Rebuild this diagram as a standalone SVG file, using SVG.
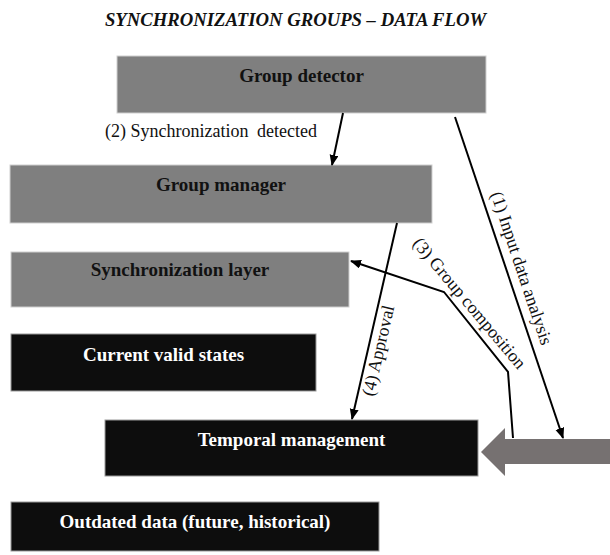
<svg xmlns="http://www.w3.org/2000/svg" width="610" height="555" viewBox="0 0 610 555">
<style>
  .title { font-family: "Liberation Serif", "Times New Roman", serif; font-weight: bold; font-style: italic; font-size: 18.7px; fill: #111; }
  .gbox { fill: #7f7f7f; stroke: #cfcfcf; stroke-width: 1; }
  .bbox { fill: #0d0d0d; stroke: #9a9a9a; stroke-width: 1; }
  .gtxt { font-family: "Liberation Serif", "Times New Roman", serif; font-weight: bold; font-size: 19px; fill: #111; text-anchor: middle; }
  .btxt { font-family: "Liberation Serif", "Times New Roman", serif; font-weight: bold; font-size: 19px; fill: #ffffff; text-anchor: middle; }
  .lbl { font-family: "Liberation Serif", "Times New Roman", serif; font-size: 18px; fill: #111; }
  .conn { fill: none; stroke: #000; stroke-width: 2; marker-end: url(#ah); }
</style>
<defs>
  <marker id="ah" markerUnits="userSpaceOnUse" markerWidth="12" markerHeight="10" refX="10" refY="4.5" orient="auto">
    <path d="M0,0 L11,4.5 L0,9 z" fill="#000"/>
  </marker>
</defs>
<rect width="610" height="555" fill="#ffffff"/>
<text class="title" x="295.5" y="26" text-anchor="middle">SYNCHRONIZATION GROUPS – DATA FLOW</text>

<g id="group-detector">
  <rect class="gbox" x="117" y="56" width="369" height="57"/>
  <text class="gtxt" x="301.5" y="82">Group detector</text>
</g>
<g id="group-manager">
  <rect class="gbox" x="10" y="165" width="422" height="58"/>
  <text class="gtxt" x="221" y="191">Group manager</text>
</g>
<g id="synchronization-layer">
  <rect class="gbox" x="11" y="252" width="338" height="55"/>
  <text class="gtxt" x="180" y="276">Synchronization layer</text>
</g>
<g id="current-valid-states">
  <rect class="bbox" x="11" y="334" width="305" height="57"/>
  <text class="btxt" x="163.5" y="361">Current valid states</text>
</g>
<g id="temporal-management">
  <rect class="bbox" x="105" y="420" width="373" height="56"/>
  <text class="btxt" x="291.5" y="446">Temporal management</text>
</g>
<g id="outdated-data">
  <rect class="bbox" x="11" y="502" width="368" height="49"/>
  <text class="btxt" x="195" y="528">Outdated data (future, historical)</text>
</g>
<g id="input-arrow">
  <polygon points="481,452 505,428 505,439 610,439 610,464 505,464 505,476" fill="#767171"/>
</g>

<g id="connectors">
  <line class="conn" x1="343" y1="113" x2="332" y2="165"/>
  <line class="conn" x1="455" y1="117" x2="563" y2="438"/>
  <polyline class="conn" points="513,438 508,372 444,292 351,261"/>
  <line class="conn" x1="397" y1="223" x2="352" y2="419"/>
  <text class="lbl" x="105" y="137">(2) Synchronization <tspan dx="4">detected</tspan></text>
  <text class="lbl" text-anchor="middle" transform="translate(516,270) rotate(71.5)">(1) Input data analysis</text>
  <text class="lbl" text-anchor="middle" transform="translate(465,307) rotate(50)">(3) Group composition</text>
  <text class="lbl" text-anchor="middle" transform="translate(384,352) rotate(-77)">(4) Approval</text>
</g>
</svg>
